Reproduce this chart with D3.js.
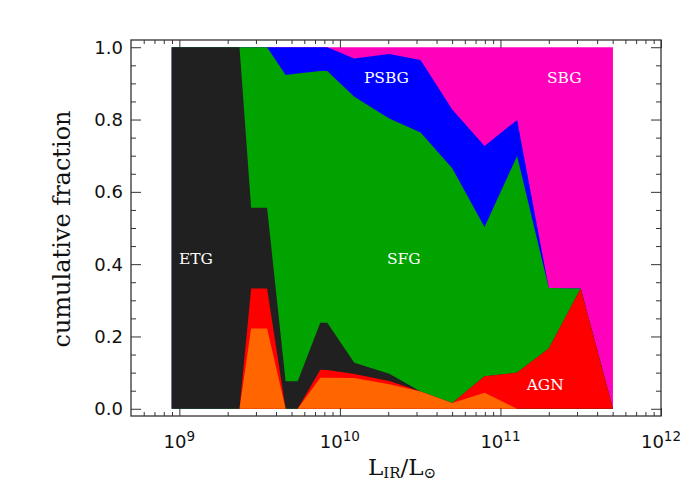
<!DOCTYPE html>
<html>
<head>
<meta charset="utf-8">
<script src="https://cdn.jsdelivr.net/npm/d3@7"></script>
<style>
  body { margin: 0; background: #fff; }
</style>
</head>
<body>
<div id="viz"></div>
<script>
// infrared luminosity of each bin edge / centre (L_sun)
const lumBins = [8.97e8, 2.37e9, 2.80e9, 3.52e9, 4.59e9, 5.46e9, 7.55e9, 8.34e9,
  1.23e10, 2.03e10, 3.18e10, 5.01e10, 7.96e10, 1.27e11, 2.00e11, 3.16e11, 5.02e11];

// fraction of each class per bin (stacked bottom -> top)
const compFrac = [0, 0, .222, .222, 0, 0, .086, .086, .085, .068, .048, .016, .044, 0, 0, 0, 0];
const agnFrac  = [0, 0, .111, .111, 0, 0, .022, .021, .011, .009, 0, 0, .046, .100, .167, .333, 0];
const etgFrac  = [1, 1, .223, .223, .076, .076, .130, .131, .031, .020, 0, 0, 0, 0, 0, 0, 0];
const sfgFrac  = [0, 0, .444, .444, .847, .851, .696, .696, .736, .706, .716, .649, .413, .599, .167, 0, 0];
const psbgFrac = [0, 0, 0, 0, .077, .073, .066, .066, .106, .178, .201, .163, .224, .100, 0, 0, 0];
const sbgFrac  = [0, 0, 0, 0, 0, 0, 0, 0, .031, .019, .035, .172, .273, .201, .666, .667, 1];

const classNames = ['COMP', 'AGN', 'ETG', 'SFG', 'PSBG', 'SBG'];
const classColors = ['#ff6600', '#ff0000', '#202020', '#00a300', '#0000ff', '#ff00bb'];

const yTickValues = [0, 0.2, 0.4, 0.6, 0.8, 1.0];
const xTickExponents = [9, 10, 11, 12];

const config = {
  width: 700,
  height: 499,
  left: 131,
  right: 661,
  top: 40,
  bottom: 416
};

const rows = lumBins.map((L, i) => ({
  L: L,
  COMP: compFrac[i],
  AGN: agnFrac[i],
  ETG: etgFrac[i],
  SFG: sfgFrac[i],
  PSBG: psbgFrac[i],
  SBG: sbgFrac[i]
}));

const svg = d3.select('#viz').append('svg')
  .attr('width', config.width)
  .attr('height', config.height);

const x = d3.scaleLog().domain([5e8, 1e12]).range([config.left, config.right]);
const y = d3.scaleLinear().domain([-0.02, 1.02]).range([config.bottom, config.top]);

const series = d3.stack().keys(classNames)(rows);

// draw cumulative areas from the top class down so there are no seams
const area = d3.area()
  .x(d => x(d.data.L))
  .y0(y(0))
  .y1(d => y(d[1]));

svg.append('g')
  .selectAll('path')
  .data(series.slice().reverse())
  .join('path')
  .attr('d', area)
  .attr('fill', d => classColors[d.index]);

// class labels
const labels = [
  { text: 'ETG', L: 1.27e9, f: 0.415 },
  { text: 'SFG', L: 2.5e10, f: 0.415 },
  { text: 'PSBG', L: 1.95e10, f: 0.915 },
  { text: 'SBG', L: 2.5e11, f: 0.915 },
  { text: 'AGN', L: 1.9e11, f: 0.066 }
];
svg.append('g')
  .selectAll('text')
  .data(labels)
  .join('text')
  .attr('x', d => x(d.L))
  .attr('y', d => y(d.f))
  .attr('dy', '0.35em')
  .attr('text-anchor', 'middle')
  .attr('fill', '#fff')
  .style('font-family', '"DejaVu Serif", serif')
  .style('font-size', '15.5px')
  .text(d => d.text);

// ticks (pointing inward, on all four sides)
const xMajor = xTickExponents.map(e => Math.pow(10, e));
const xMinor = [];
for (let e = 8; e <= 11; e++) {
  for (let m = 2; m <= 9; m++) {
    const v = m * Math.pow(10, e);
    if (v > 5e8 && v < 1e12) xMinor.push(v);
  }
}
const yMinor = d3.range(0, 21).map(i => i * 0.05).filter(v => Math.abs(v * 5 - Math.round(v * 5)) > 1e-6);

function tickAxis(axis, values, size) {
  return g => {
    g.call(axis.tickValues(values).tickSize(size).tickFormat(''));
    g.select('.domain').remove();
    g.selectAll('line').attr('stroke', '#333');
  };
}

svg.append('g').attr('transform', `translate(0,${config.bottom})`)
  .call(tickAxis(d3.axisBottom(x), xMajor, -8));
svg.append('g').attr('transform', `translate(0,${config.bottom})`)
  .call(tickAxis(d3.axisBottom(x), xMinor, -4));
svg.append('g').attr('transform', `translate(0,${config.top})`)
  .call(tickAxis(d3.axisTop(x), xMajor, -8));
svg.append('g').attr('transform', `translate(0,${config.top})`)
  .call(tickAxis(d3.axisTop(x), xMinor, -4));
svg.append('g').attr('transform', `translate(${config.left},0)`)
  .call(tickAxis(d3.axisLeft(y), yTickValues, -10));
svg.append('g').attr('transform', `translate(${config.left},0)`)
  .call(tickAxis(d3.axisLeft(y), yMinor, -5));
svg.append('g').attr('transform', `translate(${config.right},0)`)
  .call(tickAxis(d3.axisRight(y), yTickValues, -10));
svg.append('g').attr('transform', `translate(${config.right},0)`)
  .call(tickAxis(d3.axisRight(y), yMinor, -5));

svg.append('rect')
  .attr('x', config.left)
  .attr('y', config.top)
  .attr('width', config.right - config.left)
  .attr('height', config.bottom - config.top)
  .attr('fill', 'none')
  .attr('stroke', '#333')
  .attr('stroke-width', 1.3);

// tick labels
svg.append('g')
  .selectAll('text')
  .data(yTickValues)
  .join('text')
  .attr('x', config.left - 8)
  .attr('y', d => y(d))
  .attr('dy', '0.36em')
  .attr('text-anchor', 'end')
  .attr('fill', '#111')
  .style('font-family', '"DejaVu Sans", sans-serif')
  .style('font-size', '18px')
  .text(d3.format('.1f'));

const xLab = svg.append('g')
  .selectAll('text')
  .data(xTickExponents)
  .join('text')
  .attr('x', d => x(Math.pow(10, d)))
  .attr('y', 448)
  .attr('text-anchor', 'middle')
  .attr('fill', '#111')
  .style('font-family', '"DejaVu Sans", sans-serif')
  .style('font-size', '18px');
xLab.append('tspan').text('10');
xLab.append('tspan')
  .attr('dy', -7)
  .style('font-size', '13.5px')
  .text(d => d);

// axis titles
svg.append('text')
  .attr('transform', `translate(70,229) rotate(-90)`)
  .attr('text-anchor', 'middle')
  .attr('fill', '#111')
  .style('font-family', '"DejaVu Serif", serif')
  .style('font-size', '24px')
  .text('cumulative fraction');

const xTitle = svg.append('text')
  .attr('x', 402)
  .attr('y', 475)
  .attr('text-anchor', 'middle')
  .attr('fill', '#111')
  .style('font-family', '"DejaVu Serif", serif')
  .style('font-size', '23px');
xTitle.append('tspan').text('L');
xTitle.append('tspan').attr('dy', 3).style('font-size', '15px').text('IR');
xTitle.append('tspan').attr('dy', -3).text('/L');
xTitle.append('tspan').attr('dy', 3).style('font-size', '15px').text('\u2299');
</script>
</body>
</html>
